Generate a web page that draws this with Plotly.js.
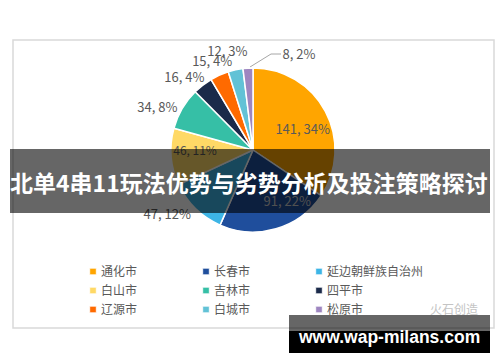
<!DOCTYPE html>
<html>
<head>
<meta charset="utf-8">
<script src="https://cdn.plot.ly/plotly-3.0.1.min.js"></script>
<style>html,body{margin:0;padding:0;background:#fff;}#chart{width:500px;height:362px;}</style>
</head>
<body>
<div id="chart"></div>
<script>
// ---- data ----
var cities = ['通化市','长春市','延边朝鲜族自治州','白山市','吉林市','四平市','辽源市','白城市','松原市'];
var counts = [141, 91, 47, 46, 34, 16, 15, 12, 8];
var pctLabels = ['34%','22%','12%','11%','8%','4%','4%','3%','2%'];
var colors = ['#FFA500','#1F4E9C','#3DB5E6','#FFD966','#36BFA6','#1B2A4A','#FF6A00','#62C2D6','#9E86C0'];
var bannerTitle = '北单4串11玩法优势与劣势分析及投注策略探讨';
var bannerSite = 'www.wap-milans.com';
var watermark = '火石创造';

// ---- label placement (style, not data) ----
var mainTextPos = ['none','none','outside','inside','outside','none','none','none','none'];
// some labels come from transparent copies of the pie, nudged so they sit where the reference has them
var labelPasses = [
  {idx: 0, pos: 'inside',  rot: 4.6,  r: 102},
  {idx: 1, pos: 'inside',  rot: -18,  r: 100},
  {idx: 5, pos: 'outside', rot: 4.6,  r: 80},
  {idx: 6, pos: 'outside', rot: 13,   r: 82.4},
  {idx: 7, pos: 'outside', rot: 11.8, r: 90},
  {idx: 8, pos: 'outside', rot: 19.2, r: 91.5}
];
var labelColors = ['#595959','#c8c8c8','#595959','#595959','#595959','#595959','#595959','#595959','#595959'];

// ---- layout helpers (pixel -> paper) ----
var W = 500, H = 362, ML = 40, MR = 40, PW = W - ML - MR;
function X(px){ return (px - ML) / PW; }
function Y(py){ return 1 - py / H; }
var CX = 253, CY = 150, R = 82;
function domainFor(r){ return {x: [X(CX - r), X(CX + r)], y: [Y(CY + r), Y(CY - r)]}; }

var FONT = '"Noto Sans CJK SC", "Noto Sans", sans-serif';
var transparent = cities.map(function(){ return 'rgba(0,0,0,0)'; });

function pieTrace(pos, cols, lineW, showleg, rot, r) {
  return {
    type: 'pie',
    labels: cities,
    values: counts,
    customdata: pctLabels,
    texttemplate: '%{value}, %{customdata}',
    textposition: pos,
    insidetextorientation: 'horizontal',
    sort: false,
    direction: 'clockwise',
    rotation: rot,
    showlegend: showleg,
    marker: {colors: cols, line: {color: '#ffffff', width: lineW}},
    textfont: {family: FONT, size: 13, color: labelColors},
    insidetextfont: {color: labelColors},
    outsidetextfont: {color: labelColors},
    domain: domainFor(r),
    hoverinfo: 'none'
  };
}

var data = [pieTrace(mainTextPos, colors, 1.5, true, 0, R)];
labelPasses.forEach(function(p){
  var pos = cities.map(function(_, i){ return i === p.idx ? p.pos : 'none'; });
  data.push(pieTrace(pos, transparent, 0, false, p.rot, p.r));
});

var layout = {
  width: W, height: H,
  margin: {l: ML, r: MR, t: 0, b: 0, pad: 0},
  paper_bgcolor: '#ffffff',
  showlegend: true,
  legend: {
    orientation: 'h',
    x: X(61), xanchor: 'left',
    y: Y(257), yanchor: 'top',
    entrywidth: 68,
    traceorder: 'normal',
    font: {family: FONT, size: 12, color: '#595959'},
    bgcolor: 'rgba(0,0,0,0)',
    borderwidth: 0
  },
  shapes: [
    {type: 'rect', xref: 'paper', yref: 'paper', layer: 'below',
     x0: X(13), x1: X(494), y0: Y(328), y1: Y(40),
     line: {color: '#d9d9d9', width: 1.5}, fillcolor: 'rgba(0,0,0,0)'},
    // leader line of the smallest slice label
    {type: 'path', xref: 'paper', yref: 'paper', layer: 'below',
     path: 'M' + X(250) + ',' + Y(67) + ' L' + X(271) + ',' + Y(54) + ' L' + X(281) + ',' + Y(54),
     line: {color: '#a6a6a6', width: 1}},
    {type: 'rect', xref: 'paper', yref: 'paper', layer: 'above',
     x0: X(10), x1: X(490), y0: Y(213), y1: Y(149),
     line: {width: 0}, fillcolor: 'rgba(0,0,0,0.6)'},
    {type: 'rect', xref: 'paper', yref: 'paper', layer: 'above',
     x0: X(289), x1: X(490), y0: Y(331), y1: Y(315),
     line: {width: 0}, fillcolor: 'rgba(0,0,0,0.6)'},
    {type: 'rect', xref: 'paper', yref: 'paper', layer: 'above',
     x0: X(289), x1: X(490), y0: Y(353), y1: Y(331),
     line: {width: 0}, fillcolor: '#000000'}
  ],
  annotations: [
    {xref: 'paper', yref: 'paper', x: X(249), y: Y(182), xanchor: 'center', yanchor: 'middle',
     text: '<b>' + bannerTitle + '</b>', showarrow: false,
     font: {family: FONT, size: 23, color: '#ffffff'}},
    {xref: 'paper', yref: 'paper', x: X(389), y: Y(337), xanchor: 'center', yanchor: 'middle',
     text: '<b>' + bannerSite + '</b>', showarrow: false,
     font: {family: '"Liberation Sans", Arial, sans-serif', size: 17.5, color: '#ffffff'}},
    {xref: 'paper', yref: 'paper', x: X(454), y: Y(308), xanchor: 'center', yanchor: 'middle',
     text: watermark, showarrow: false,
     font: {family: FONT, size: 12, color: '#c4c4c4'}}
  ]
};

Plotly.newPlot('chart', data, layout, {displayModeBar: false, staticPlot: true}).then(function(gd){
  // let the long legend label show in full
  gd.querySelectorAll('.legend, .legend [clip-path]').forEach(function(e){ e.removeAttribute('clip-path'); });
  // smaller legend squares, closer to their text
  gd.querySelectorAll('.legend path.legendpie').forEach(function(p){
    var t = p.getAttribute('transform') || '';
    p.setAttribute('transform', t + ' translate(12,0) scale(0.55)');
  });
});
</script>
</body>
</html>
